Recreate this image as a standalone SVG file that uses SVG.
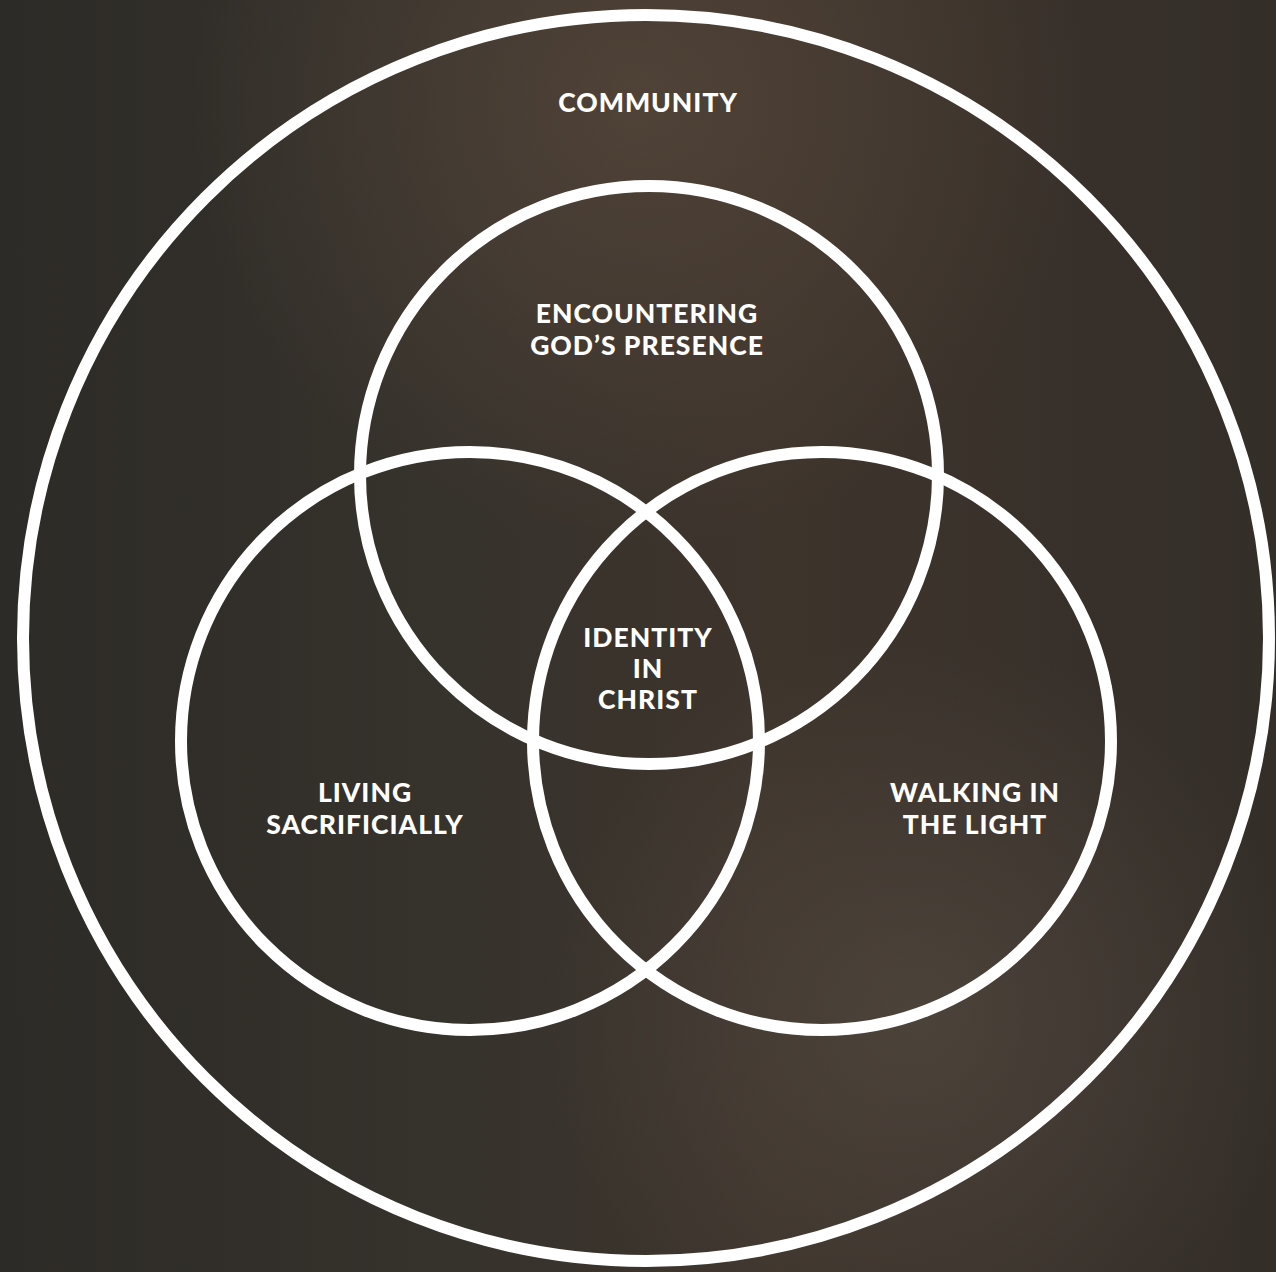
<svg xmlns="http://www.w3.org/2000/svg" width="1276" height="1272" viewBox="0 0 1276 1272">
  <defs>
    <linearGradient id="bg" x1="0" y1="0" x2="1" y2="0">
      <stop offset="0" stop-color="#2d2b27"/>
      <stop offset="0.35" stop-color="#36322c"/>
      <stop offset="0.6" stop-color="#3d342c"/>
      <stop offset="1" stop-color="#342e29"/>
    </linearGradient>
    <radialGradient id="glowTop" cx="0.5" cy="0.08" r="0.35">
      <stop offset="0" stop-color="#55463a" stop-opacity="0.8"/>
      <stop offset="1" stop-color="#55463a" stop-opacity="0"/>
    </radialGradient>
    <radialGradient id="glowBR" cx="0.72" cy="0.8" r="0.3">
      <stop offset="0" stop-color="#5a5047" stop-opacity="0.55"/>
      <stop offset="1" stop-color="#5a5047" stop-opacity="0"/>
    </radialGradient>
    <style>
      .ring { fill: none; stroke: #ffffff; stroke-width: 12; }
      .label { font-family: Lato, "Open Sans", "Liberation Sans", sans-serif; font-weight: 900; font-size: 26.5px; fill: #ffffff; text-anchor: middle; letter-spacing: 1px; }
    </style>
  </defs>
  <rect width="1276" height="1272" fill="url(#bg)"/>
  <rect width="1276" height="1272" fill="url(#glowTop)"/>
  <rect width="1276" height="1272" fill="url(#glowBR)"/>

  <g id="community">
    <circle class="ring" cx="646" cy="638" r="623" stroke-width="11"/>
    <text class="label" x="648" y="112">COMMUNITY</text>
  </g>
  <g id="encountering">
    <circle class="ring" cx="649" cy="475" r="289"/>
    <text class="label" x="647" y="323">ENCOUNTERING</text>
    <text class="label" x="647" y="355">GOD’S PRESENCE</text>
  </g>
  <g id="living">
    <circle class="ring" cx="470" cy="741" r="289"/>
    <text class="label" x="365" y="802">LIVING</text>
    <text class="label" x="365" y="834">SACRIFICIALLY</text>
  </g>
  <g id="walking">
    <circle class="ring" cx="822" cy="741" r="289"/>
    <text class="label" x="975" y="802">WALKING IN</text>
    <text class="label" x="975" y="834">THE LIGHT</text>
  </g>
  <g id="identity">
    <text class="label" x="648" y="647">IDENTITY</text>
    <text class="label" x="648" y="678">IN</text>
    <text class="label" x="648" y="709">CHRIST</text>
  </g>
  <g id="connectors"></g>
</svg>
